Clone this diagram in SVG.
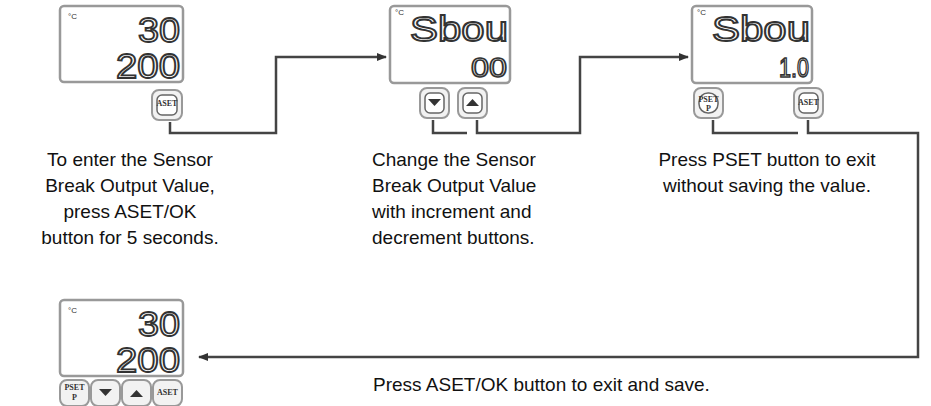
<svg xmlns="http://www.w3.org/2000/svg" width="931" height="406" viewBox="0 0 931 406">
<defs>
<style>
.disp{fill:#fff;stroke:#999;stroke-width:2.5}
.seg{font-family:"Liberation Sans",sans-serif;font-size:35px;fill:#fff;stroke:#333;stroke-width:1.8;text-anchor:end}
.segs{font-family:"Liberation Sans",sans-serif;font-size:28px;fill:#fff;stroke:#333;stroke-width:1.6;text-anchor:end}
.deg{font-family:"Liberation Sans",sans-serif;font-size:8px;fill:#333}
.btn{fill:#f2f2f2;stroke:#999;stroke-width:2}
.bi{fill:#fff;stroke:#666;stroke-width:1.5}
.bl{font-family:"Liberation Serif",serif;font-size:8px;font-weight:bold;fill:#333;text-anchor:middle}
.t{font-family:"Liberation Sans",sans-serif;font-size:19px;fill:#111}
.c{fill:none;stroke:#444;stroke-width:2.5}
</style>
<marker id="ah" markerWidth="10" markerHeight="8" refX="9" refY="4" orient="auto" markerUnits="userSpaceOnUse"><path d="M0,0 L10,4 L0,8 z" fill="#333"/></marker>
</defs>
<g id="connectors">
<path class="c" d="M170,122 V133 H276 V57 H386" marker-end="url(#ah)"/>
<path class="c" d="M433,120 V133 H467"/>
<path class="c" d="M477,120 V133 H580 V57 H688" marker-end="url(#ah)"/>
<path class="c" d="M713,120 V133 H798"/>
<path class="c" d="M808,120 V133 H918 V357 H199" marker-end="url(#ah)"/>
</g>
<g id="node1">
<rect class="disp" x="60" y="6" width="123" height="76" rx="4"/>
<text class="deg" x="68" y="19">°C</text>
<text class="seg" x="180" y="42" textLength="42" lengthAdjust="spacingAndGlyphs">30</text>
<text class="seg" x="180" y="78" textLength="64" lengthAdjust="spacingAndGlyphs">200</text>
<rect class="btn" x="152" y="90" width="30" height="30" rx="7"/><rect class="bi" x="157" y="95" width="20" height="20" rx="5"/><text class="bl" x="167" y="106" font-size="7">ASET</text>
</g>
<g id="node2">
<rect class="disp" x="390" y="6" width="120" height="77" rx="4"/>
<text class="deg" x="395" y="15">°C</text>
<text class="seg" x="508" y="41" textLength="98" lengthAdjust="spacingAndGlyphs">Sbou</text>
<text class="segs" x="507" y="77" textLength="36" lengthAdjust="spacingAndGlyphs">00</text>
<rect class="btn" x="420" y="88" width="29" height="30" rx="7"/><rect class="bi" x="425" y="93" width="19" height="20" rx="5"/><path d="M428,99 h13 l-6.5,7 z" fill="#333"/>
<rect class="btn" x="458" y="88" width="29" height="30" rx="7"/><rect class="bi" x="463" y="93" width="19" height="20" rx="5"/><path d="M466,106 h13 l-6.5,-7 z" fill="#333"/>
</g>
<g id="node3">
<rect class="disp" x="692" y="6" width="120" height="77" rx="4"/>
<text class="deg" x="697" y="15">°C</text>
<text class="seg" x="810" y="41" textLength="98" lengthAdjust="spacingAndGlyphs">Sbou</text>
<text class="segs" x="809" y="77" textLength="30" lengthAdjust="spacingAndGlyphs">1.0</text>
<rect class="btn" x="694" y="88" width="29" height="30" rx="7"/><rect class="bi" x="699" y="93" width="19" height="20" rx="9"/><text class="bl" x="708.5" y="102" font-size="6">PSET</text><text class="bl" x="708.5" y="111">P</text>
<rect class="btn" x="794" y="88" width="29" height="30" rx="7"/><rect class="bi" x="799" y="93" width="19" height="20" rx="5"/><text class="bl" x="808.5" y="105" font-size="6">ASET</text>
</g>
<g id="node4">
<rect class="disp" x="60" y="300" width="123" height="76" rx="4"/>
<text class="deg" x="68" y="313">°C</text>
<text class="seg" x="180" y="336" textLength="42" lengthAdjust="spacingAndGlyphs">30</text>
<text class="seg" x="180" y="372" textLength="64" lengthAdjust="spacingAndGlyphs">200</text>
<rect class="btn" x="60" y="380" width="29" height="26" rx="7"/><text class="bl" x="74.5" y="390" font-size="6">PSET</text><text class="bl" x="74.5" y="400">P</text>
<rect class="btn" x="91" y="380" width="29" height="26" rx="7"/><path d="M99,389 h13 l-6.5,7 z" fill="#333"/>
<rect class="btn" x="122" y="380" width="29" height="26" rx="7"/><path d="M130,397 h13 l-6.5,-7 z" fill="#333"/>
<rect class="btn" x="153" y="380" width="29" height="26" rx="7"/><text class="bl" x="167.5" y="395" font-size="6">ASET</text>
</g>
<g id="labels">
<text class="t" text-anchor="middle" x="130" y="166">To enter the Sensor</text>
<text class="t" text-anchor="middle" x="130" y="192">Break Output Value,</text>
<text class="t" text-anchor="middle" x="130" y="218">press ASET/OK</text>
<text class="t" text-anchor="middle" x="130" y="244">button for 5 seconds.</text>
<text class="t" x="372" y="166">Change the Sensor</text>
<text class="t" x="372" y="192">Break Output Value</text>
<text class="t" x="372" y="218">with increment and</text>
<text class="t" x="372" y="244">decrement buttons.</text>
<text class="t" text-anchor="middle" x="767" y="166">Press PSET button to exit</text>
<text class="t" text-anchor="middle" x="767" y="192">without saving the value.</text>
<text class="t" x="373" y="391">Press ASET/OK button to exit and save.</text>
</g>
</svg>
